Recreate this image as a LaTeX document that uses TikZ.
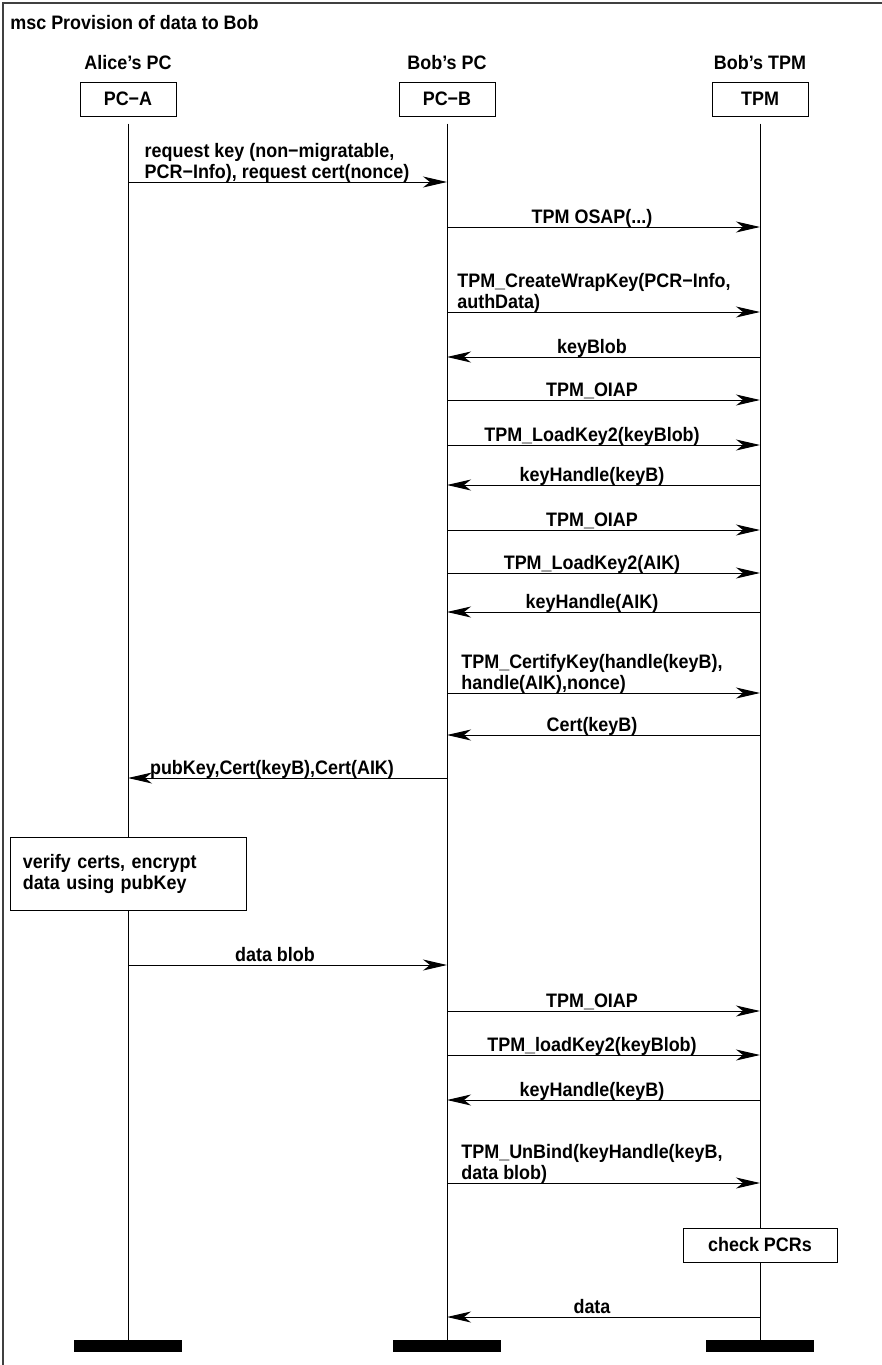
\documentclass[tikz,border=0pt]{standalone}
\usepackage{fontspec}
\setmainfont{Liberation Sans}[FakeStretch=0.92]
\usetikzlibrary{arrows.meta}

\begin{document}
\begin{tikzpicture}[x=0.5pt,y=-0.5pt,
  font=\fontsize{9.75}{10.5}\selectfont\bfseries,
  inst/.style={draw,line width=0.5pt,minimum width=48pt,minimum height=17pt,inner sep=0pt},
  endbar/.style={fill=black,minimum width=54pt,minimum height=6pt,inner sep=0pt},
  lifeline/.style={line width=0.5pt,shorten <=3.5pt},
  msg/.style={line width=0.5pt,-{Stealth[length=12pt,width=5.5pt,inset=3.5pt]}},
  lbl/.style={anchor=south,align=left,inner sep=0pt,text depth=0pt},
  action/.style={draw,fill=white,line width=0.5pt,inner sep=0pt}]
\useasboundingbox (0,0) rectangle (882,1365);
% frame and title
\draw[line width=0.75pt,black!75] (3,3) rectangle (1000,1500);
\node[anchor=base west,inner sep=0pt] (title) at (10,29) {msc Provision of data to Bob};
% instances
\node[anchor=base,inner sep=0pt] (namea) at (128,69) {Alice’s PC};
\node[anchor=base,inner sep=0pt] (nameb) at (447,69) {Bob’s PC};
\node[anchor=base,inner sep=0pt] (namet) at (760,69) {Bob’s TPM};
\node[inst] (pca) at (128,99) {PC−A};
\node[inst] (pcb) at (447,99) {PC−B};
\node[inst] (tpm) at (760,99) {TPM};
\node[endbar] (enda) at (128,1346) {};
\node[endbar] (endb) at (447,1346) {};
\node[endbar] (endt) at (760,1346) {};
\draw[lifeline] (pca) -- (enda);
\draw[lifeline] (pcb) -- (endb);
\draw[lifeline] (tpm) -- (endt);
% messages
\foreach \y/\f/\t/\lx/\txt in {
  182/pca/pcb/277/{request key (non−migratable,\\PCR−Info), request cert(nonce)},
  227/pcb/tpm/592/{TPM OSAP(...)},
  312/pcb/tpm/594/{TPM\_CreateWrapKey(PCR−Info,\\authData)},
  357/tpm/pcb/592/{keyBlob},
  400/pcb/tpm/592/{TPM\_OIAP},
  445/pcb/tpm/592/{TPM\_LoadKey2(keyBlob)},
  485/tpm/pcb/592/{keyHandle(keyB)},
  530/pcb/tpm/592/{TPM\_OIAP},
  573/pcb/tpm/592/{TPM\_LoadKey2(AIK)},
  612/tpm/pcb/592/{keyHandle(AIK)},
  693/pcb/tpm/592/{TPM\_CertifyKey(handle(keyB),\\handle(AIK),nonce)},
  735/tpm/pcb/592/{Cert(keyB)},
  778/pcb/pca/272/{pubKey,Cert(keyB),Cert(AIK)},
  965/pca/pcb/275/{data blob},
  1011/pcb/tpm/592/{TPM\_OIAP},
  1055/pcb/tpm/592/{TPM\_loadKey2(keyBlob)},
  1100/tpm/pcb/592/{keyHandle(keyB)},
  1183/pcb/tpm/592/{TPM\_UnBind(keyHandle(keyB,\\data blob)},
  1317/tpm/pcb/592/{data}}
{
  \draw[msg] (\f |- 0,\y) -- (\t |- 0,\y);
  \node[lbl] (lbl\y) at (\lx,\y-3) {\txt};
}
% actions
\node[action,text width=105pt,inner xsep=6.5pt,minimum height=36.5pt,align=left] (verify) at (128,873.5) {verify certs, encrypt\\data using pubKey};
\node[action,minimum width=77pt,minimum height=17pt] (check) at (760,1245) {check PCRs};
\end{tikzpicture}
\end{document}
